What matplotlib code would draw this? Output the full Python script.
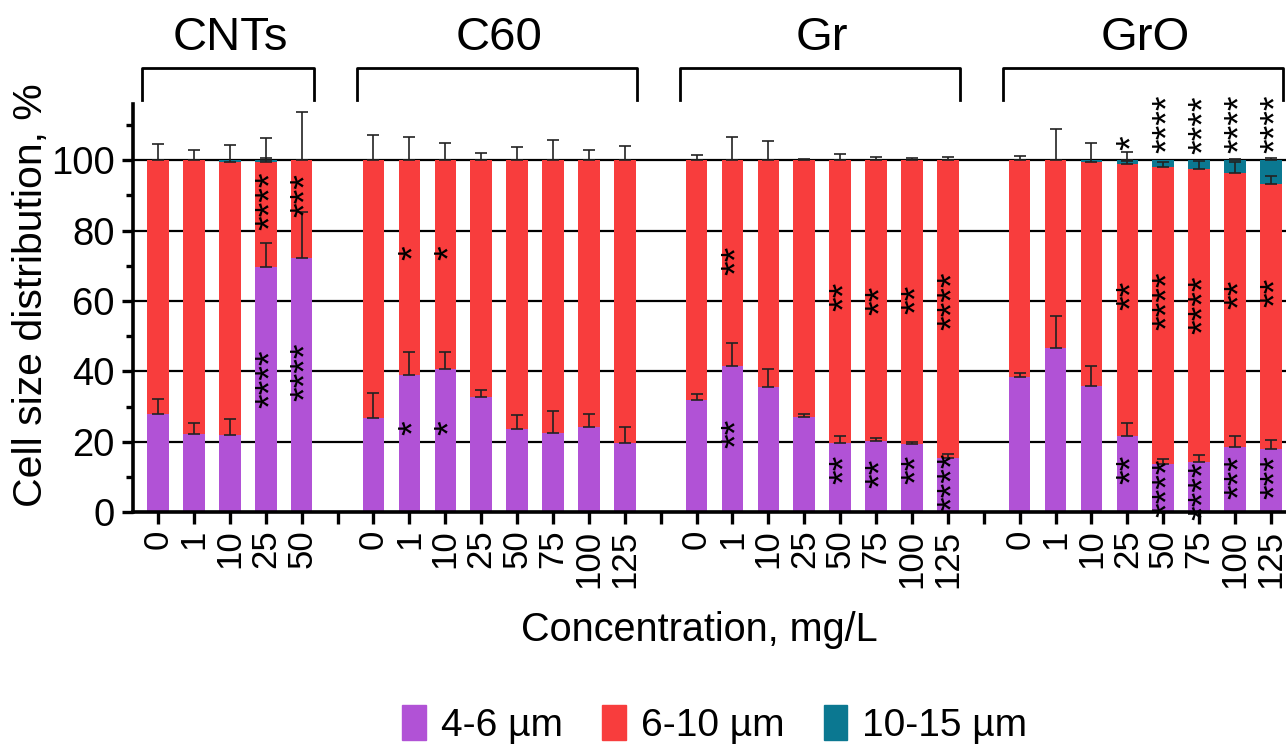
import numpy as np
import matplotlib
matplotlib.use("Agg")
from matplotlib import pyplot as plt
from matplotlib.patches import Patch
from matplotlib.ticker import MultipleLocator

plt.rcParams['font.family'] = ['Liberation Sans', 'DejaVu Sans']

groups = ["CNTs", "C60", "Gr", "GrO"]
concentrations = [
    ["0", "1", "10", "25", "50"],
    ["0", "1", "10", "25", "50", "75", "100", "125"],
    ["0", "1", "10", "25", "50", "75", "100", "125"],
    ["0", "1", "10", "25", "50", "75", "100", "125"],
]

# 4-6 um share, %
small = [27.8, 22.2, 21.9, 69.6, 72.2,
         26.6, 39.0, 40.6, 32.7, 23.6, 22.6, 24.2, 19.5,
         31.8, 41.5, 35.6, 27.0, 19.6, 20.3, 19.3, 15.3,
         38.3, 46.5, 35.8, 21.6, 13.6, 14.3, 18.5, 18.0]
small_sd = [4.2, 3.1, 4.6, 6.8, 13.0,
            7.2, 6.5, 4.9, 2.0, 3.9, 6.1, 3.6, 4.7,
            1.7, 6.5, 5.2, 0.8, 2.1, 0.7, 0.7, 1.1,
            1.1, 9.3, 5.7, 3.7, 1.5, 1.9, 3.1, 2.5]
# 10-15 um share, %
large = [0, 0, 0.5, 0.5, 0,
         0, 0, 0, 0, 0, 0, 0, 0,
         0, 0, 0, 0, 0, 0, 0, 0,
         0, 0, 0.5, 1.1, 2.0, 2.6, 3.7, 6.8]
large_sd = [0, 0, 0, 6.3, 0,
            0, 0, 0, 0, 0, 0, 0, 0,
            0, 0, 0, 0, 0, 0, 0, 0,
            0, 0, 0, 2.3, 0, 0, 0.3, 0.6]
# 6-10 um is the rest
mid_sd = [4.5, 2.8, 4.8, 1.2, 13.6,
          7.1, 6.5, 4.8, 2.0, 3.7, 5.9, 3.0, 4.0,
          1.4, 6.5, 5.4, 0.5, 1.9, 0.8, 0.6, 0.8,
          1.1, 9.0, 5.3, 0.8, 1.5, 2.3, 3.3, 2.3]

# significance marks: bar number, height, text
sig_bar = [3, 3, 4, 4, 6, 6, 7, 7,
           14, 14, 17, 17, 18, 18, 19, 19, 20, 20,
           24, 24, 24, 25, 25, 25, 26, 26, 26, 27, 27, 27, 28, 28, 28]
sig_y = [38, 88.6, 39.8, 90, 24, 73.6, 24, 73.6,
         22.4, 71.6, 12.2, 61.4, 11, 60.2, 12, 60.5, 8.5, 60.2,
         12, 61.6, 105, 7, 60.2, 110.5, 6, 58.8, 110, 10, 62, 110.5, 10, 62.5, 110.5]
sig_text = ["****", "****", "****", "***", "*", "*", "*", "*",
            "**", "**", "**", "**", "**", "**", "**", "**", "****", "****",
            "**", "**", "*", "****", "****", "****", "****", "****", "****",
            "***", "**", "****", "***", "**", "****"]

purple = "#b152d6"
red = "#f83d3d"
teal = "#0b7891"

small = np.array(small)
large = np.array(large)
mid = 100 - small - large

# x positions with one empty slot between groups
pos = []
gap_ticks = []
start = 0
spans = []
for g in concentrations:
    pos.extend(range(start, start + len(g)))
    spans.append((start, start + len(g) - 1))
    start += len(g) + 1
    gap_ticks.append(start - 1)
gap_ticks = gap_ticks[:-1]
pos = np.array(pos)
labels = [c for g in concentrations for c in g]

fig = plt.figure(figsize=(12.86, 7.44), dpi=100)
ax = fig.add_axes([0.1034, 0.3118, 0.8966, 0.5484])
ax.set_axisbelow(True)

w = 0.6
ax.bar(pos, small, w, color=purple, zorder=2)
ax.bar(pos, mid, w, bottom=small, color=red, zorder=2)
ax.bar(pos, large, w, bottom=small + mid, color=teal, zorder=2)

ek = dict(fmt="none", ecolor="#222222", elinewidth=1.2, capsize=4.3, capthick=1.2, zorder=3)
for base, sd in [(small, small_sd), (small + mid, mid_sd), (small + mid + large, large_sd)]:
    sd = np.array(sd)
    m = sd > 0
    ax.errorbar(pos[m], base[m], yerr=[np.zeros(m.sum()), sd[m]], **ek)

# rotated asterisks sit high in their line, so nudge them right
for b, y, t in zip(sig_bar, sig_y, sig_text):
    ax.text(pos[b] + 0.15, y, t, rotation=90, ha="center", va="center",
            fontsize=27, color="black", clip_on=False, zorder=4)

ax.set_xlim(-0.7, 31.42)
ax.set_ylim(0, 116)
ax.set_yticks([0, 20, 40, 60, 80, 100])
ax.yaxis.set_minor_locator(MultipleLocator(10))
ax.grid(axis="y", color="black", linewidth=1.6)
ax.set_xticks(list(pos) + gap_ticks)
ax.set_xticklabels(labels + [""] * len(gap_ticks), rotation=90)
ax.tick_params(axis="y", which="major", length=8, width=2.4, labelsize=27.5, pad=5)
ax.tick_params(axis="y", which="minor", length=5, width=2.4)
ax.tick_params(axis="x", length=8.5, width=2.4, labelsize=25, pad=4)
for s in ["top", "right"]:
    ax.spines[s].set_visible(False)
for s in ["left", "bottom"]:
    ax.spines[s].set_linewidth(2.6)

# group brackets and names
for (a, b), name in zip(spans, groups):
    x0, x1 = a - 0.45, b + 0.35
    ax.plot([x0, x0, x1, x1], [117, 126.1, 126.1, 117], color="black",
            linewidth=2, clip_on=False)
    ax.text((a + b) / 2, 131.3, name, ha="center", va="baseline", fontsize=34)

fig.text(0.024, 0.603, "Cell size distribution, %", rotation=90, ha="center",
         va="center", fontsize=29.5)
fig.text(0.544, 0.153, "Concentration, mg/L", ha="center", va="center", fontsize=28.5)

handles = [Patch(color=purple), Patch(color=red), Patch(color=teal)]
fig.legend(handles, ["4-6 µm", "6-10 µm", "10-15 µm"], loc="center",
           bbox_to_anchor=(0.556, 0.026), ncol=3, frameon=False, fontsize=28,
           handlelength=0.6, handleheight=1.0, handletextpad=0.4, columnspacing=1.0)

fig.savefig("out.png", dpi=100)
